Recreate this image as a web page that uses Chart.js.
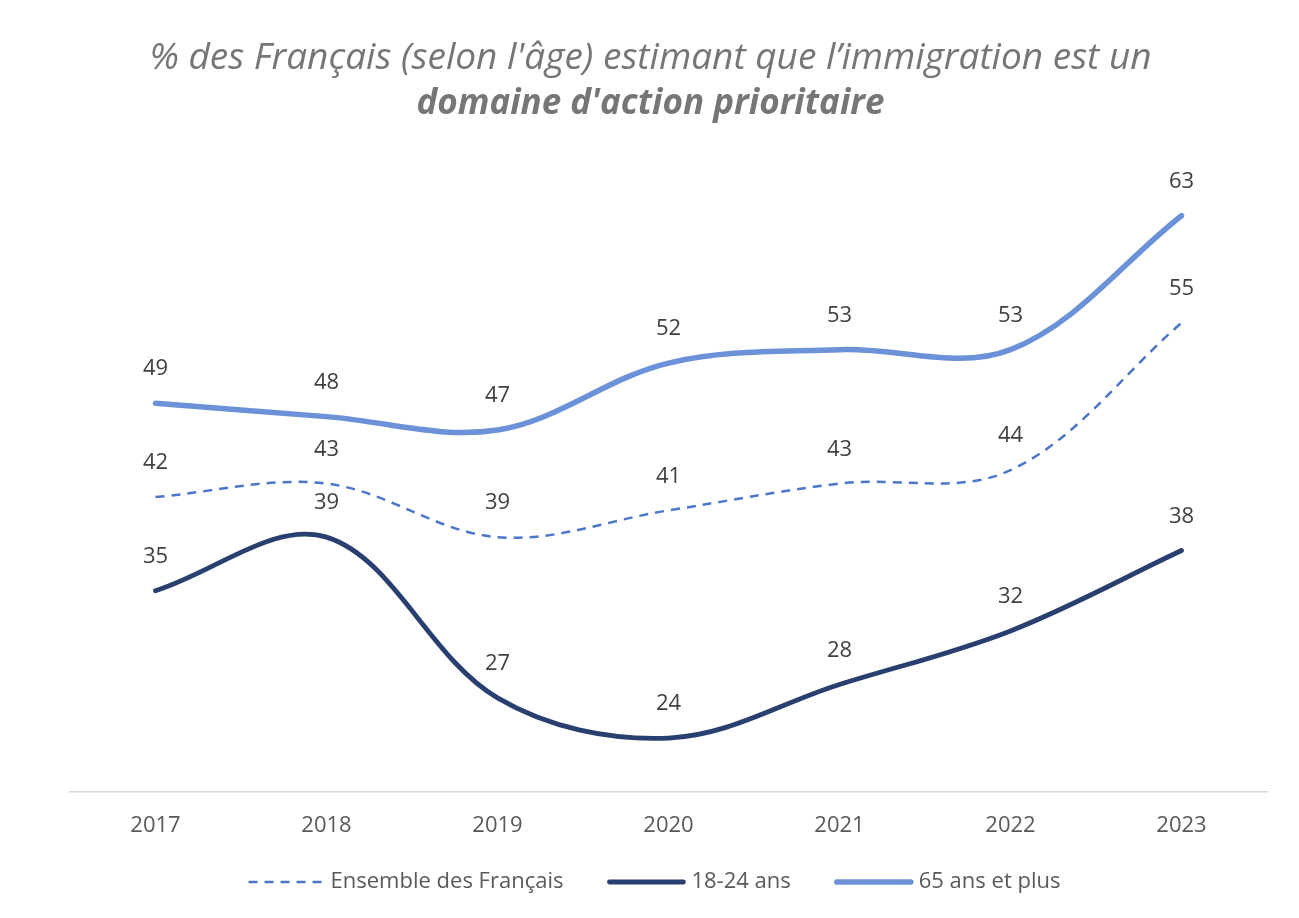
<!DOCTYPE html>
<html>
<head>
<meta charset="utf-8">
<script src="https://cdn.jsdelivr.net/npm/chart.js@4"></script>
<style>
  html, body { margin: 0; padding: 0; background: #fff; }
  #wrap { width: 1299px; height: 918px; }
</style>
</head>
<body>
<div id="wrap"><canvas id="mycanvas" width="1299" height="918"></canvas></div>
<script>
// values
var years = ["2017", "2018", "2019", "2020", "2021", "2022", "2023"];
var ensemble = [42, 43, 39, 41, 43, 44, 55];
var jeunes = [35, 39, 27, 24, 28, 32, 38];
var seniors = [49, 48, 47, 52, 53, 53, 63];

var titleLine1 = "% des Français (selon l'âge) estimant que l’immigration est un";
var titleLine2 = "domaine d'action prioritaire";

var labelFont = "22px 'Open Sans'";
var textColor = "#595959";

// two-line title, second line in bold
var twoLineTitle = {
    id: "twoLineTitle",
    afterDraw: function (chart) {
        var ctx = chart.ctx;
        var cx = chart.width / 2 + 1;
        ctx.save();
        ctx.fillStyle = "#767676";
        ctx.textAlign = "center";
        ctx.textBaseline = "middle";
        ctx.font = "italic 37px 'Open Sans'";
        ctx.fillText(titleLine1, cx, 58);
        ctx.font = "italic bold 35px 'Open Sans'";
        ctx.fillText(titleLine2, cx, 104);
        ctx.restore();
    }
};

// value labels above each point
var valueLabels = {
    id: "valueLabels",
    afterDatasetsDraw: function (chart) {
        var ctx = chart.ctx;
        ctx.save();
        ctx.font = labelFont;
        ctx.fillStyle = "#404040";
        ctx.textAlign = "center";
        ctx.textBaseline = "middle";
        chart.data.datasets.forEach(function (ds, i) {
            var meta = chart.getDatasetMeta(i);
            meta.data.forEach(function (pt, j) {
                ctx.fillText(ds.data[j], pt.x, pt.y - 34);
            });
        });
        ctx.restore();
    }
};

// legend drawn by hand so the dashed sample and spacing look like the original
var lineLegend = {
    id: "lineLegend",
    afterDraw: function (chart) {
        var ctx = chart.ctx;
        var sample = 74, gap = 8, spacing = 46;
        var y = 882;
        ctx.save();
        ctx.font = labelFont;
        var total = 0;
        chart.data.datasets.forEach(function (ds, i) {
            total += sample + gap + ctx.measureText(ds.label).width;
            if (i > 0) total += spacing;
        });
        var x = chart.width / 2 + 5 - total / 2;
        chart.data.datasets.forEach(function (ds) {
            ctx.beginPath();
            ctx.strokeStyle = ds.borderColor;
            ctx.lineWidth = ds.borderWidth;
            ctx.lineCap = ds.borderDash ? "butt" : "round";
            ctx.setLineDash(ds.borderDash || []);
            ctx.moveTo(x, y);
            ctx.lineTo(x + sample, y);
            ctx.stroke();
            ctx.setLineDash([]);
            x += sample + gap;
            ctx.fillStyle = textColor;
            ctx.textAlign = "left";
            ctx.textBaseline = "middle";
            ctx.fillText(ds.label, x, y);
            x += ctx.measureText(ds.label).width + spacing;
        });
        ctx.restore();
    }
};

var ctx = document.getElementById("mycanvas");
var myNewChart = new Chart(ctx, {
    type: "line",
    data: {
        labels: years,
        datasets: [
            {
                label: "Ensemble des Français",
                data: ensemble,
                borderColor: "#4b76ca",
                backgroundColor: "#4b76ca",
                borderWidth: 2.5,
                borderDash: [9, 7],
                tension: 0.35,
                pointRadius: 0,
                fill: false
            },
            {
                label: "18-24 ans",
                data: jeunes,
                borderColor: "#283f6f",
                backgroundColor: "#283f6f",
                borderWidth: 4.8,
                borderCapStyle: "round",
                tension: 0.35,
                pointRadius: 0,
                fill: false
            },
            {
                label: "65 ans et plus",
                data: seniors,
                borderColor: "#6b91d8",
                backgroundColor: "#6b91d8",
                borderWidth: 5.5,
                borderCapStyle: "round",
                tension: 0.35,
                pointRadius: 0,
                fill: false
            }
        ]
    },
    options: {
        responsive: false,
        animation: false,
        layout: { padding: { left: 70, right: 32, top: 122, bottom: 58 } },
        scales: {
            x: {
                offset: true,
                grid: { display: false, drawTicks: false },
                border: { display: true, color: "#d9d9d9", width: 1.5 },
                ticks: {
                    color: textColor,
                    font: { family: "'Open Sans'", size: 22 },
                    padding: 21
                }
            },
            y: {
                display: false,
                min: 20,
                max: 70
            }
        },
        plugins: {
            title: { display: false },
            legend: { display: false },
            tooltip: { enabled: false }
        }
    },
    plugins: [twoLineTitle, valueLabels, lineLegend]
});
</script>
</body>
</html>
